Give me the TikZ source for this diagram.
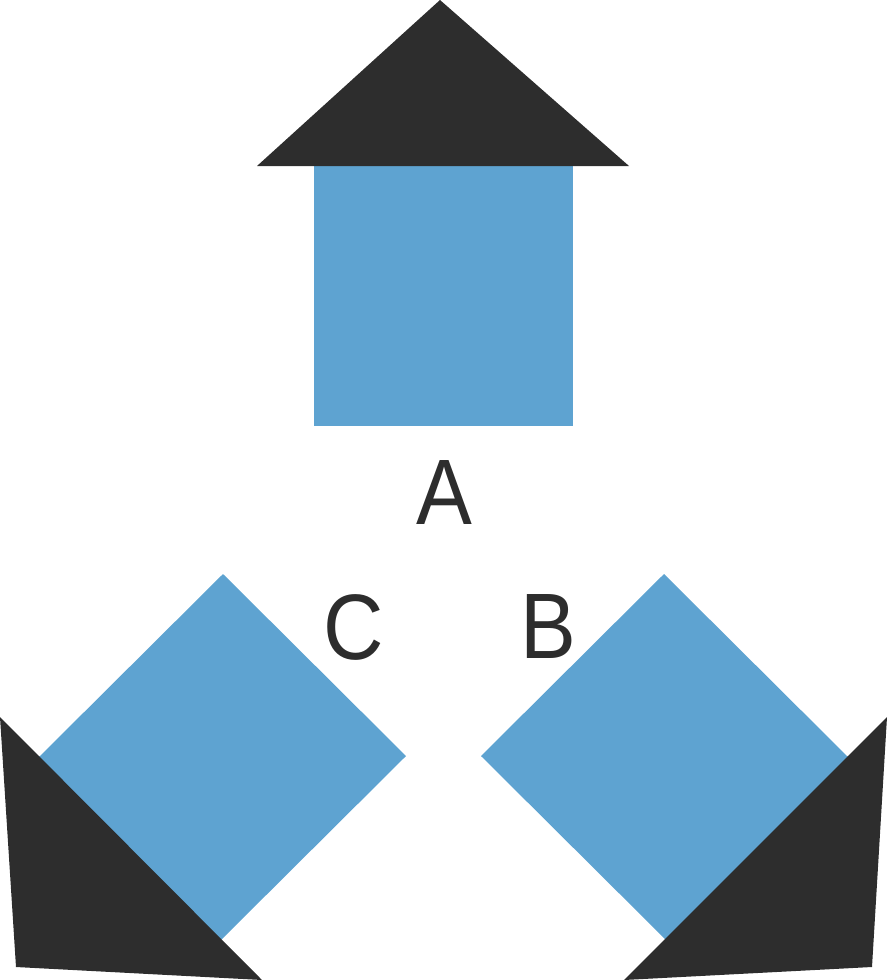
\documentclass[tikz,border=0pt]{standalone}
\usepackage{fontspec}
\setmainfont{Liberation Sans}
\newfontfamily\labelfont[FakeStretch=0.9]{Liberation Sans}
\definecolor{tileblue}{RGB}{94,163,209}
\definecolor{tiledark}{RGB}{45,45,45}
\tikzset{
  bluepart/.style={fill=tileblue, draw=none},
  darkpart/.style={fill=tiledark, draw=none},
  letter/.style={text=tiledark, inner sep=0pt, anchor=base, font=\labelfont\fontsize{93}{93}\selectfont}
}
\begin{document}
\begin{tikzpicture}[x=1pt,y=-1pt]
\useasboundingbox (0,0) rectangle (887,980);
% top house
\fill[bluepart] (314,166) rectangle (573,426);
\fill[darkpart] (440,0) -- (629,166) -- (257,166) -- cycle;
% left diamond (lower-left part tucked under the triangle) and triangle
\fill[bluepart] (223,574) -- (406,756) -- (223,938) -- (218,943) -- (34,759) -- (40,756) -- cycle;
\fill[darkpart] (0,717) -- (262,980) -- (16,967) -- cycle;
% right diamond and triangle
\fill[bluepart] (664,574) -- (847,756) -- (853,759) -- (669,943) -- (664,938) -- (481,756) -- cycle;
\fill[darkpart] (887,717) -- (624,980) -- (872,967) -- cycle;
% labels
\node[letter] (A) at (444,524) {A};
\node[letter] (C) at (354,659) {C};
\node[letter] (B) at (548,658) {B};
\end{tikzpicture}
\end{document}
